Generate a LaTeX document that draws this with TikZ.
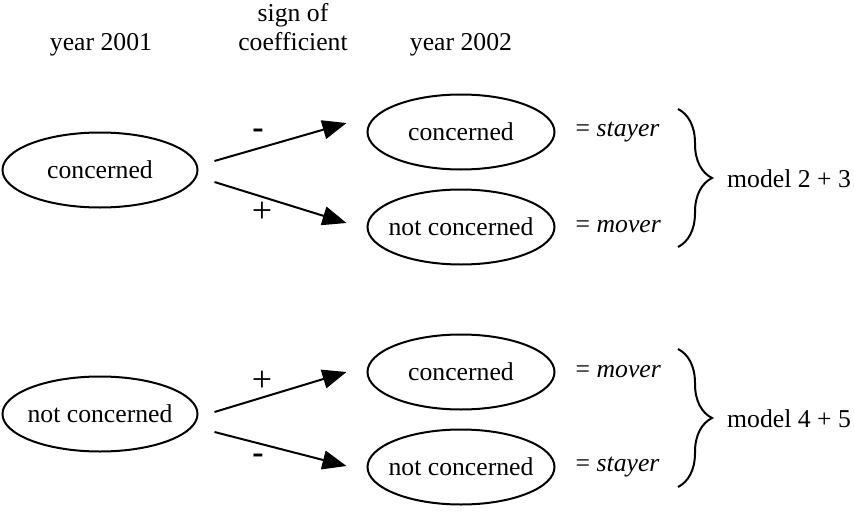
\documentclass[tikz,border=0pt]{standalone}
\usepackage{fontspec}
\setmainfont{Liberation Serif}
\usetikzlibrary{shapes.geometric,calc,arrows.meta,decorations.pathreplacing}

\begin{document}
\begin{tikzpicture}[x=1pt,y=-1pt]
  \tikzset{every node/.style={font=\fontsize{25.7}{30}\selectfont},
    state/.style={ellipse, draw, line width=2pt, inner sep=0pt,
      minimum width=187pt, minimum height=75pt},
    oldstate/.style={state, minimum width=195pt},
    outcome/.style={anchor=west, inner sep=0pt},
    plus/.style={font=\fontsize{36}{36}\selectfont},
    minus/.style={font=\fontsize{34}{34}\selectfont\bfseries},
    conn/.style={line width=2pt, -{Triangle[length=24pt,width=19pt]}},
    grp/.style={line width=2pt, decorate,
      decoration={brace, amplitude=34pt}}
  }

  \useasboundingbox (0,0) rectangle (854,514);

  % column heads
  \node[anchor=base] (h1) at (101,50) {year 2001};
  \node[anchor=base] (h2a) at (293,21) {sign of};
  \node[anchor=base] (h2b) at (293,50) {coefficient};
  \node[anchor=base] (h3) at (461,50) {year 2002};

  % upper group
  \node[oldstate] (A) at (100,170) {\makebox[0pt]{concerned}};
  \node[state] (A1) at (461,132) {\makebox[0pt]{concerned}};
  \node[state] (A2) at (461,227) {\makebox[0pt]{not concerned}};
  \node[outcome] (A1r) at ($(A1.east)+(20,0)$) {= \textit{stayer}};
  \node[outcome] (A2r) at ($(A2.east)+(20,0)$) {= \textit{mover}};

  \draw[conn] ($(A.east)+(16,-9)$) -- ($(A1.west)+(-20,-9)$)
    node[minus, pos=0.33, above=6pt] (sA1) {-};
  \draw[conn] ($(A.east)+(16,12)$) -- ($(A2.west)+(-20,-4)$)
    node[plus, pos=0.36, below=1pt] (sA2) {+};

  \coordinate (Btop) at (678,109);
  \coordinate (Bbot) at (678,247);
  \draw[grp] (Btop) -- (Bbot);
  \node[outcome] (M1) at (727,179) {model 2 + 3};

  % lower group
  \node[oldstate] (C) at (100,414) {\makebox[0pt]{not concerned}};
  \node[state] (C1) at (461,372) {\makebox[0pt]{concerned}};
  \node[state] (C2) at (461,467) {\makebox[0pt]{not concerned}};
  \node[outcome] (C1r) at ($(C1.east)+(20,0)$) {= \textit{mover}};
  \node[outcome] (C2r) at ($(C2.east)+(20,0)$) {= \textit{stayer}};

  \draw[conn] ($(C.east)+(16,-2)$) -- ($(C1.west)+(-20,0)$)
    node[plus, pos=0.36, above=2pt] (sC1) {+};
  \draw[conn] ($(C.east)+(16,18)$) -- ($(C2.west)+(-20,-1)$)
    node[minus, pos=0.33, below=6pt] (sC2) {-};

  \coordinate (Dtop) at (678,349);
  \coordinate (Dbot) at (678,487);
  \draw[grp] (Dtop) -- (Dbot);
  \node[outcome] (M2) at (727,419) {model 4 + 5};
\end{tikzpicture}
\end{document}
